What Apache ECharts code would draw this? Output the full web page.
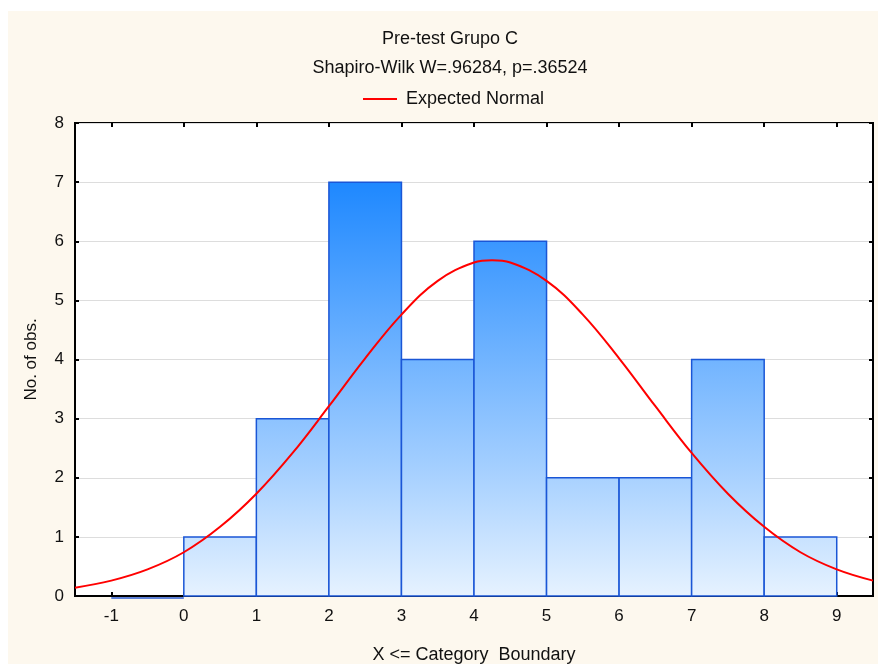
<!DOCTYPE html>
<html>
<head>
<meta charset="utf-8">
<script src="https://cdn.jsdelivr.net/npm/echarts@6/dist/echarts.min.js"></script>
<style>
  html, body { margin: 0; padding: 0; background: #ffffff; }
  #chart { width: 878px; height: 664px; }
</style>
</head>
<body>
<div id="chart"></div>
<script>
  // histogram bins: upper boundaries and counts
  var binLow = [-1, 0, 1, 2, 3, 4, 5, 6, 7, 8];
  var binHigh = [0, 1, 2, 3, 4, 5, 6, 7, 8, 9];
  var counts = [0, 1, 3, 7, 4, 6, 2, 2, 4, 1];

  // expected normal curve
  var curveX = [-1.5, -1, -0.5, 0, 0.5, 1, 1.5, 2, 2.5, 3, 3.5, 4, 4.25, 4.5, 5, 5.5, 6, 6.5, 7, 7.5, 8, 8.5, 9, 9.5];
  var curveY = [0.14, 0.26, 0.45, 0.74, 1.17, 1.73, 2.42, 3.21, 4.02, 4.76, 5.33, 5.64, 5.68, 5.64, 5.33, 4.76, 4.02, 3.21, 2.42, 1.73, 1.17, 0.74, 0.45, 0.26];

  var xTicks = [-1, 0, 1, 2, 3, 4, 5, 6, 7, 8, 9];

  var font = 'Liberation Sans, Arial, sans-serif';
  var histData = binLow.map(function (lo, i) { return [lo, binHigh[i], counts[i]]; });
  var curveData = curveX.map(function (x, i) { return [x, curveY[i]]; });

  var myChart = echarts.init(document.getElementById('chart'));
  var option = {
    animation: false,
    backgroundColor: '#ffffff',
    graphic: [{
      type: 'rect',
      z: -10,
      silent: true,
      shape: { x: 8, y: 11, width: 870, height: 653 },
      style: { fill: '#FDF8EE' }
    }],
    title: {
      text: 'Pre-test Grupo C',
      subtext: 'Shapiro-Wilk W=.96284, p=.36524',
      left: 445,
      textAlign: 'center',
      top: 25,
      itemGap: 11,
      textStyle: { fontFamily: font, fontSize: 18, fontWeight: 'normal', color: '#111' },
      subtextStyle: { fontFamily: font, fontSize: 18, color: '#111' }
    },
    legend: {
      top: 85,
      left: 358,
      data: [{ name: 'Expected Normal', icon: 'rect' }],
      itemWidth: 34,
      itemHeight: 2,
      itemGap: 10,
      textStyle: { fontFamily: font, fontSize: 18, color: '#111', padding: [0, 0, 0, 4] }
    },
    grid: {
      left: 75, right: 5, top: 123, bottom: 68,
      outerBoundsMode: 'none',
      containLabel: false,
      show: true,
      backgroundColor: '#ffffff',
      borderColor: '#000',
      borderWidth: 2,
      z: 0
    },
    xAxis: [{
      type: 'value',
      min: -1.5,
      max: 9.5,
      name: 'X <= Category  Boundary',
      nameLocation: 'middle',
      nameGap: 50,
      nameTextStyle: { fontFamily: font, fontSize: 18, color: '#111' },
      axisLine: { show: true, onZero: false, lineStyle: { color: '#000', width: 2 } },
      axisTick: { show: true, inside: true, length: 4, customValues: xTicks, lineStyle: { color: '#000', width: 2 } },
      axisLabel: { customValues: xTicks, margin: 12, fontFamily: font, fontSize: 17, color: '#111' },
      splitLine: { show: false }
    }, {
      type: 'value',
      position: 'top',
      min: -1.5,
      max: 9.5,
      axisLine: { show: false, onZero: false },
      axisTick: { show: true, inside: true, length: 4, customValues: xTicks, lineStyle: { color: '#000', width: 2 } },
      axisLabel: { show: false },
      splitLine: { show: false }
    }],
    yAxis: [{
      type: 'value',
      min: 0,
      max: 8,
      interval: 1,
      name: 'No. of obs.',
      nameLocation: 'middle',
      nameGap: 35,
      nameTextStyle: { fontFamily: font, fontSize: 17, color: '#111' },
      axisLine: { show: true, onZero: false, lineStyle: { color: '#000', width: 2 } },
      axisTick: { show: true, inside: true, length: 4, lineStyle: { color: '#000', width: 2 } },
      axisLabel: { margin: 11, fontFamily: font, fontSize: 17, color: '#111' },
      splitLine: { show: true, lineStyle: { color: '#DDDDDD', width: 1 } }
    }, {
      type: 'value',
      position: 'right',
      min: 0,
      max: 8,
      interval: 1,
      axisLine: { show: false, onZero: false },
      axisTick: { show: true, inside: true, length: 4, lineStyle: { color: '#000', width: 2 } },
      axisLabel: { show: false },
      splitLine: { show: false }
    }],
    series: [{
      name: 'Histogram',
      type: 'custom',
      xAxisIndex: 0,
      yAxisIndex: 0,
      z: 2,
      data: histData,
      renderItem: function (params, api) {
        var lo = api.value(0), hi = api.value(1), n = api.value(2);
        var p0 = api.coord([lo, 0]);
        var p1 = api.coord([hi, n]);
        var top = api.coord([0, 7])[1];
        var bot = api.coord([0, 0])[1];
        if (n === 0) {
          return {
            type: 'line',
            shape: { x1: p0[0], y1: p0[1] + 2, x2: p1[0], y2: p0[1] + 2 },
            style: { stroke: '#2A5BD0', lineWidth: 1.5 }
          };
        }
        return {
          type: 'rect',
          shape: { x: p0[0], y: p1[1], width: p1[0] - p0[0], height: p0[1] - p1[1] },
          style: {
            fill: {
              type: 'linear', x: 0, y: top, x2: 0, y2: bot, global: true,
              colorStops: [
                { offset: 0, color: '#1E88FF' },
                { offset: 0.7, color: '#A6D0FF' },
                { offset: 1, color: '#E6F2FF' }
              ]
            },
            stroke: '#1A56D6',
            lineWidth: 1.5
          }
        };
      }
    }, {
      name: 'Expected Normal',
      type: 'line',
      xAxisIndex: 0,
      yAxisIndex: 0,
      z: 3,
      data: curveData,
      smooth: 0.4,
      showSymbol: false,
      symbol: 'none',
      lineStyle: { color: '#FF0000', width: 2 },
      itemStyle: { color: '#FF0000' }
    }]
  };
  myChart.setOption(option);
</script>
</body>
</html>
